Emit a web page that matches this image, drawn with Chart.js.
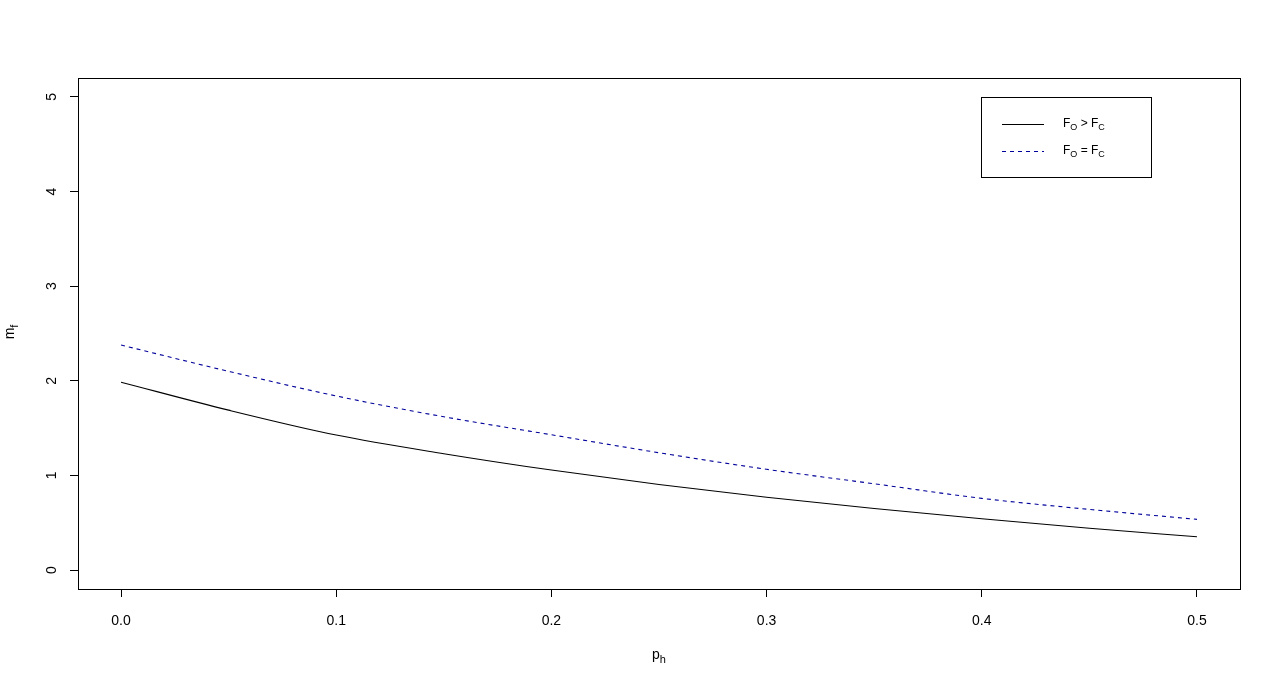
<!DOCTYPE html>
<html>
<head>
<meta charset="utf-8">
<title>m_f against p_h</title>
<script src="https://cdn.jsdelivr.net/npm/chart.js@4.4.1/dist/chart.umd.min.js"></script>
<style>
  body { margin: 0; background: #fff; }
  #wrap { width: 1280px; height: 687px; }
</style>
</head>
<body>
<div id="wrap"><canvas id="chart"></canvas></div>
<script>
// values
const ph = [0, 0.05, 0.1, 0.15, 0.2, 0.25, 0.3, 0.35, 0.4, 0.45, 0.5];
const mfGreater = [1.985, 1.69, 1.427, 1.23, 1.057, 0.905, 0.77, 0.65, 0.542, 0.442, 0.352];
const mfEqual = [2.378, 2.10, 1.84, 1.62, 1.43, 1.24, 1.065, 0.912, 0.758, 0.641, 0.536];
const seriesNames = ["F_O > F_C", "F_O = F_C"];
const xTicks = [0, 0.1, 0.2, 0.3, 0.4, 0.5];
const yTicks = [0, 1, 2, 3, 4, 5];
const xTitle = "p_h";
const yTitle = "m_f";

const FONT = "'Liberation Sans', Arial, sans-serif";

// "_X" makes X a subscript
function splitSub(str) {
  const parts = [];
  for (let i = 0; i < str.length; i++) {
    if (str[i] === "_" && i + 1 < str.length) {
      parts.push({ t: str[i + 1], sub: true });
      i++;
    } else if (parts.length && !parts[parts.length - 1].sub) {
      parts[parts.length - 1].t += str[i];
    } else {
      parts.push({ t: str[i], sub: false });
    }
  }
  return parts;
}

function richText(ctx, str, x, y, size, align) {
  const parts = splitSub(str);
  const subSize = Math.round(size * 0.76);
  let total = 0;
  parts.forEach(p => {
    ctx.font = (p.sub ? subSize : size) + "px " + FONT;
    p.w = ctx.measureText(p.t).width;
    total += p.w;
  });
  let cx = align === "center" ? x - total / 2 : x;
  ctx.textAlign = "left";
  ctx.textBaseline = "alphabetic";
  parts.forEach(p => {
    ctx.font = (p.sub ? subSize : size) + "px " + FONT;
    ctx.fillText(p.t, cx, p.sub ? y + size * 0.25 : y);
    cx += p.w;
  });
}

const rStyle = {
  id: "rStyle",
  afterDraw(chart) {
    const ctx = chart.ctx;
    const a = chart.chartArea;
    ctx.save();
    ctx.strokeStyle = "#000";
    ctx.fillStyle = "#000";
    ctx.lineWidth = 1;
    ctx.setLineDash([]);
    ctx.strokeRect(Math.round(a.left) + 0.5, Math.round(a.top) + 0.5,
      Math.round(a.right - a.left), Math.round(a.bottom - a.top));

    // legend box
    ctx.strokeRect(981.5, 97.5, 170, 80);
    chart.data.datasets.forEach((ds, i) => {
      const y = 124 + i * 27;
      ctx.strokeStyle = ds.borderColor;
      ctx.setLineDash(ds.borderDash || []);
      ctx.beginPath();
      ctx.moveTo(1002, y + 0.5);
      ctx.lineTo(1044, y + 0.5);
      ctx.stroke();
      ctx.fillStyle = "#000";
      richText(ctx, ds.label, 1063, y + 3, 12, "left");
    });
    ctx.setLineDash([]);

    // axis titles
    ctx.fillStyle = "#000";
    richText(ctx, xTitle, (a.left + a.right) / 2, 659, 14, "center");
    ctx.translate(14, 332);
    ctx.rotate(-Math.PI / 2);
    richText(ctx, yTitle, 0, 0, 14, "center");
    ctx.restore();
  }
};

new Chart(document.getElementById("chart"), {
  type: "line",
  data: {
    datasets: [
      {
        label: seriesNames[0],
        data: ph.map((x, i) => ({ x: x, y: mfGreater[i] })),
        borderColor: "#000000",
        borderWidth: 1.1,
        pointRadius: 0,
        cubicInterpolationMode: "monotone",
      },
      {
        label: seriesNames[1],
        data: ph.map((x, i) => ({ x: x, y: mfEqual[i] })),
        borderColor: "#00009a",
        borderWidth: 1.1,
        borderDash: [4, 4],
        pointRadius: 0,
        cubicInterpolationMode: "monotone",
      },
    ],
  },
  options: {
    responsive: true,
    maintainAspectRatio: false,
    animation: false,
    layout: { padding: { top: 78, right: 40, left: 0, bottom: 0 } },
    plugins: { legend: { display: false }, tooltip: { enabled: false } },
    scales: {
      x: {
        type: "linear",
        min: -0.02,
        max: 0.52,
        afterBuildTicks: s => { s.ticks = xTicks.map(v => ({ value: v })); },
        afterFit: s => { s.height = 98; },
        ticks: {
          autoSkip: false,
          maxRotation: 0,
          padding: 16,
          color: "#000",
          font: { family: FONT, size: 14 },
          callback: v => Number(v).toFixed(1),
        },
        grid: { drawOnChartArea: false, tickLength: 8, color: "#000", tickColor: "#000" },
        border: { display: false },
      },
      y: {
        min: -0.2,
        max: 5.2,
        afterBuildTicks: s => { s.ticks = yTicks.map(v => ({ value: v })); },
        afterFit: s => { s.width = 78; },
        ticks: {
          autoSkip: false,
          minRotation: 90,
          maxRotation: 90,
          crossAlign: "center",
          padding: 14,
          color: "#000",
          font: { family: FONT, size: 14 },
          callback: v => String(v),
        },
        grid: { drawOnChartArea: false, tickLength: 8, color: "#000", tickColor: "#000" },
        border: { display: false },
      },
    },
  },
  plugins: [rStyle],
});
</script>
</body>
</html>
